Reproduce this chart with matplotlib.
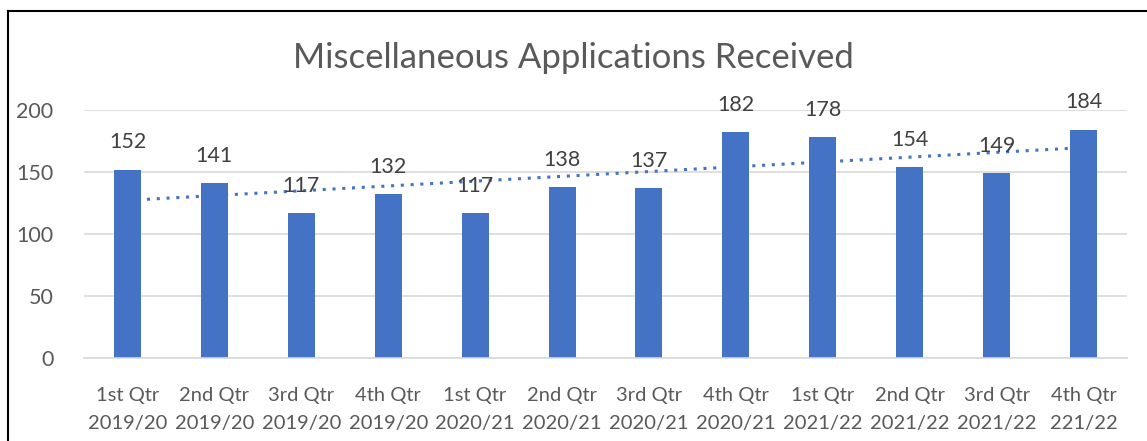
import matplotlib
matplotlib.use("Agg")
import matplotlib.pyplot as plt
import numpy as np

categories = ["1st Qtr\n2019/20", "2nd Qtr\n2019/20", "3rd Qtr\n2019/20", "4th Qtr\n2019/20",
              "1st Qtr\n2020/21", "2nd Qtr\n2020/21", "3rd Qtr\n2020/21", "4th Qtr\n2020/21",
              "1st Qtr\n2021/22", "2nd Qtr\n2021/22", "3rd Qtr\n2021/22", "4th Qtr\n221/22"]
values = [152, 141, 117, 132, 117, 138, 137, 182, 178, 154, 149, 184]
yticks = [0, 50, 100, 150, 200]
title = "Miscellaneous Applications Received"

plt.rcParams['font.family'] = ['Lato', 'DejaVu Sans']
fig = plt.figure(figsize=(11.47, 4.41), dpi=100)
ax = fig.add_axes([84/1147, 1-358/441, (1127-84)/1147, (358-110)/441])

blue = "#4472C4"
x = np.arange(len(values))
ax.bar(x, values, width=0.31, color=blue, zorder=2)
for xi, v in zip(x, values):
    ax.text(xi, v + 14, str(v), ha='center', va='bottom', fontsize=15.5, color="#404040", zorder=4)

coef = np.polyfit(x, values, 1)
ax.plot(x, np.polyval(coef, x), linestyle=(0, (1, 2.2)), color=blue, linewidth=2.2, zorder=3)

ax.set_xlim(-0.5, len(values) - 0.5)
ax.set_ylim(0, 200)
ax.set_yticks(yticks)
ax.set_xticks(x)
ax.set_xticklabels(categories, fontsize=14.5, color="#595959", linespacing=1.75)
ax.tick_params(axis='y', labelsize=15.5, labelcolor="#595959", length=0, pad=22)
ax.tick_params(axis='x', length=0, pad=21)
ax.grid(axis='y', color="#D9D9D9", linewidth=1.2, zorder=0)
for s in ['top', 'right', 'left']:
    ax.spines[s].set_visible(False)
ax.spines['bottom'].set_color("#D9D9D9")
ax.spines['bottom'].set_linewidth(1.2)

fig.text(0.5, 1-58/441, title, ha='center', va='center', fontsize=25, color="#595959")

# partial frame (left and top)
fig.add_artist(plt.Line2D([8/1147, 8/1147], [0, 1-11/441], color='black', linewidth=1.5, transform=fig.transFigure))
fig.add_artist(plt.Line2D([8/1147, 1], [1-11/441, 1-11/441], color='black', linewidth=1.5, transform=fig.transFigure))

fig.savefig("out.png", dpi=100)
